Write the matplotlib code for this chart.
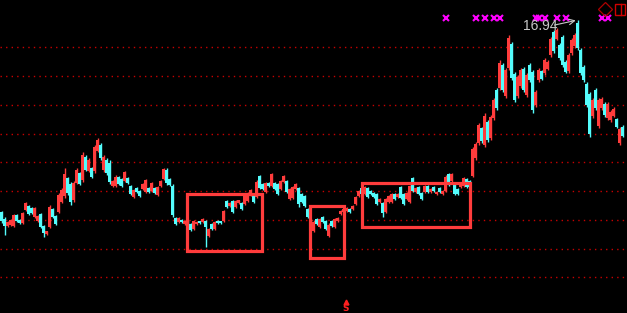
import numpy as np
import matplotlib
matplotlib.use("Agg")
import matplotlib.pyplot as plt
from matplotlib.patches import Rectangle


# Daily OHLC (price levels, gridlines sit on whole numbers)
opens = [
    10.27, 10.05, 9.79, 9.82, 9.80, 10.18, 10.00, 9.90, 10.35, 10.48,
    10.42, 10.10, 9.96, 10.21, 9.79, 9.50, 9.76, 10.38, 10.14, 10.28,
    10.63, 10.83, 11.46, 11.25, 10.70, 11.29, 11.64, 11.39, 12.20, 11.70,
    11.81, 11.70, 12.40, 12.61, 11.74, 12.09, 11.98, 11.18, 11.18, 11.50,
    11.43, 11.36, 11.46, 11.18, 10.80, 11.11, 11.01, 11.08, 10.97, 11.11,
    11.01, 11.11, 10.87, 11.18, 11.43, 11.74, 11.43, 11.18, 10.07, 9.93,
    10.00, 9.86, 9.97, 9.86, 9.69, 9.86, 9.95, 9.92, 9.95, 9.45,
    9.86, 9.69, 9.97, 9.95, 9.97, 10.66, 10.48, 10.66, 10.45, 10.58,
    10.60, 10.56, 10.66, 10.87, 10.90, 10.80, 11.53, 11.25, 10.97, 11.29,
    11.18, 11.29, 11.25, 11.08, 11.32, 11.36, 10.73, 10.77, 11.08, 11.11,
    10.90, 10.83, 10.38, 9.88, 9.62, 10.03, 9.76, 10.10, 9.97, 9.45,
    9.97, 9.76, 9.96, 10.21, 10.28, 10.31, 10.38, 10.38, 10.56, 10.83,
    11.11, 10.90, 11.11, 11.01, 10.94, 10.90, 10.63, 10.59, 10.28, 10.63,
    10.63, 10.90, 10.80, 11.15, 10.90, 10.73, 10.63, 11.46, 10.97, 11.15,
    10.94, 10.97, 11.18, 10.97, 11.15, 10.90, 11.11, 10.90, 11.01, 11.60,
    11.36, 11.25, 11.08, 11.15, 11.18, 11.43, 11.36, 11.53, 12.16, 12.68,
    13.20, 12.61, 13.41, 12.85, 13.55, 14.52, 14.59, 15.39, 14.31, 15.29,
    16.12, 15.08, 14.31, 14.66, 15.25, 14.35, 15.39, 15.15, 14.00, 14.87,
    15.18, 15.11, 15.25, 15.74, 16.54, 16.30, 16.09, 16.37, 15.50, 15.18,
    15.81, 16.05, 16.85, 15.91, 15.32, 14.73, 14.38, 13.62, 14.52, 13.27,
    13.90, 14.03, 13.55, 13.48, 13.62, 13.50, 12.68, 13.24,
]
highs = [
    10.31, 10.10, 9.97, 10.03, 10.21, 10.21, 10.03, 10.28, 10.63, 10.52,
    10.45, 10.45, 10.17, 10.24, 9.83, 9.62, 10.52, 10.42, 10.17, 10.94,
    11.11, 11.81, 11.50, 11.32, 11.36, 11.81, 11.67, 12.37, 12.26, 12.16,
    11.84, 12.61, 12.85, 12.68, 12.26, 12.16, 12.09, 11.39, 11.57, 11.53,
    11.46, 11.70, 11.50, 11.22, 11.08, 11.15, 11.04, 11.29, 11.43, 11.15,
    11.32, 11.15, 11.18, 11.39, 11.81, 11.81, 11.46, 11.25, 10.10, 10.10,
    10.03, 10.00, 10.00, 9.90, 10.00, 9.97, 9.97, 10.07, 10.00, 9.72,
    9.90, 9.97, 10.00, 9.97, 10.35, 10.70, 10.63, 10.70, 10.70, 10.70,
    10.63, 10.87, 10.97, 11.08, 10.94, 11.39, 11.57, 11.29, 11.32, 11.32,
    11.64, 11.32, 11.29, 11.39, 11.57, 11.39, 11.11, 11.18, 11.29, 11.15,
    10.94, 10.87, 10.42, 10.03, 10.00, 10.07, 10.07, 10.14, 10.00, 9.90,
    10.00, 10.07, 10.10, 10.35, 10.42, 10.45, 10.42, 10.52, 10.83, 11.04,
    11.15, 11.18, 11.15, 11.04, 10.97, 10.94, 10.77, 10.63, 10.77, 10.87,
    10.94, 10.94, 10.94, 11.18, 10.94, 10.97, 11.22, 11.50, 11.15, 11.18,
    10.97, 11.22, 11.22, 11.11, 11.18, 11.01, 11.15, 11.04, 11.57, 11.64,
    11.64, 11.29, 11.11, 11.29, 11.50, 11.46, 11.39, 12.54, 12.71, 13.37,
    13.24, 13.72, 13.48, 13.65, 14.24, 14.59, 15.56, 15.46, 15.29, 16.43,
    16.19, 15.15, 15.04, 15.29, 15.32, 15.11, 15.46, 15.22, 14.52, 15.29,
    15.22, 15.63, 15.56, 16.37, 16.61, 16.68, 16.16, 16.43, 15.56, 15.81,
    16.33, 16.50, 16.94, 15.98, 15.39, 14.80, 14.45, 14.24, 14.59, 14.24,
    14.28, 14.10, 14.10, 13.83, 13.93, 13.55, 13.24, 13.30,
]
lows = [
    9.90, 9.48, 9.76, 9.79, 9.76, 9.93, 9.86, 9.86, 10.31, 10.17,
    10.21, 10.07, 9.93, 9.72, 9.41, 9.48, 9.72, 10.07, 9.83, 10.24,
    10.59, 10.77, 10.87, 10.52, 10.63, 11.25, 11.22, 11.32, 11.70, 11.67,
    11.46, 11.64, 12.37, 12.09, 11.67, 11.57, 11.25, 11.15, 11.15, 11.22,
    11.15, 11.32, 11.25, 10.87, 10.77, 10.94, 10.80, 11.04, 10.94, 10.94,
    10.97, 10.90, 10.83, 11.15, 11.39, 11.22, 11.18, 10.10, 9.83, 9.90,
    9.90, 9.83, 9.83, 9.62, 9.65, 9.83, 9.86, 9.90, 9.06, 9.41,
    9.65, 9.65, 9.86, 9.86, 9.93, 10.42, 10.45, 10.24, 10.42, 10.56,
    10.35, 10.52, 10.63, 10.83, 10.59, 10.77, 11.08, 11.04, 10.94, 11.15,
    11.15, 11.04, 10.87, 11.04, 11.29, 10.94, 10.70, 10.73, 11.04, 10.45,
    10.59, 10.45, 10.07, 9.86, 9.58, 9.83, 9.72, 9.90, 9.65, 9.41,
    9.76, 9.72, 9.93, 10.17, 10.24, 10.28, 10.24, 10.35, 10.52, 10.80,
    10.87, 10.87, 10.77, 10.87, 10.77, 10.52, 10.59, 10.10, 10.24, 10.59,
    10.59, 10.70, 10.77, 10.73, 10.52, 10.70, 10.59, 10.97, 10.94, 10.87,
    10.70, 10.94, 10.94, 10.94, 10.97, 10.87, 10.94, 10.87, 10.97, 11.18,
    11.32, 10.87, 10.87, 11.11, 11.15, 11.11, 11.11, 11.50, 12.09, 12.61,
    12.68, 12.54, 12.71, 12.78, 13.48, 13.83, 14.52, 14.45, 14.24, 15.22,
    14.87, 14.10, 14.24, 14.59, 14.45, 14.28, 14.80, 13.72, 13.93, 14.80,
    14.87, 15.04, 15.22, 15.67, 15.81, 16.26, 15.56, 15.32, 15.11, 15.11,
    15.74, 15.98, 15.91, 15.04, 14.80, 13.93, 12.89, 13.55, 13.83, 13.20,
    13.83, 13.58, 13.48, 13.41, 13.58, 13.20, 12.61, 12.89,
]
closes = [
    9.95, 9.80, 9.94, 10.00, 10.17, 9.96, 9.89, 10.24, 10.59, 10.21,
    10.24, 10.42, 10.14, 9.76, 9.55, 9.60, 10.45, 10.10, 9.86, 10.87,
    11.04, 11.60, 10.94, 10.63, 11.29, 11.74, 11.25, 12.26, 11.74, 12.09,
    11.50, 12.54, 12.78, 12.16, 12.20, 11.64, 11.32, 11.36, 11.50, 11.25,
    11.18, 11.67, 11.29, 10.90, 11.04, 10.97, 10.83, 11.25, 11.39, 10.97,
    11.29, 10.94, 11.15, 11.36, 11.77, 11.29, 11.22, 10.17, 9.86, 10.07,
    9.93, 9.97, 9.86, 9.65, 9.97, 9.93, 9.88, 10.04, 9.76, 9.69,
    9.69, 9.93, 9.88, 9.88, 10.31, 10.45, 10.60, 10.28, 10.66, 10.68,
    10.38, 10.83, 10.94, 11.04, 10.63, 11.32, 11.11, 11.08, 11.29, 11.18,
    11.60, 11.08, 10.90, 11.36, 11.53, 10.97, 11.08, 11.15, 11.25, 10.56,
    10.63, 10.49, 10.10, 10.00, 9.93, 9.86, 10.03, 9.93, 9.69, 9.83,
    9.79, 10.03, 10.07, 10.31, 10.38, 10.42, 10.28, 10.49, 10.80, 11.01,
    10.90, 11.15, 10.80, 10.90, 10.80, 10.56, 10.73, 10.24, 10.73, 10.83,
    10.90, 10.73, 10.90, 10.77, 10.56, 10.94, 11.18, 11.01, 11.11, 10.90,
    10.73, 11.18, 10.97, 11.08, 11.01, 10.97, 10.97, 11.01, 11.50, 11.22,
    11.60, 10.90, 10.90, 11.25, 11.46, 11.15, 11.15, 12.47, 12.64, 13.30,
    12.75, 13.62, 12.78, 13.58, 14.17, 13.90, 15.46, 14.52, 15.22, 16.33,
    14.94, 14.17, 14.97, 15.22, 14.52, 15.04, 14.87, 13.83, 14.45, 15.22,
    14.90, 15.56, 15.50, 16.30, 15.88, 16.61, 15.63, 15.39, 15.15, 15.74,
    16.26, 16.43, 15.98, 15.11, 14.87, 14.00, 13.00, 14.17, 13.90, 14.17,
    14.21, 13.65, 14.03, 13.76, 13.86, 13.24, 13.17, 12.93,
]

grid_levels = [8, 9, 10, 11, 12, 13, 14, 15, 16]

# signal markers along the top (candle index)
signal_idx = [148, 158, 161, 164, 166, 178, 179, 181, 185, 188, 200, 202]
signal_y = 17.03

# highlight boxes: (x0, x1, y_bottom, y_top)
boxes = [
    (61.67, 86.93, 8.93, 10.89),
    (102.67, 114.23, 8.67, 10.50),
    (120.33, 156.33, 9.74, 11.27),
]

peak_idx = 192
peak_val = 16.94

RED = "#ff3c3c"
CYAN = "#54fcfc"

n = min(len(opens), len(highs), len(lows), len(closes))
o = np.array(opens[:n])
h = np.array(highs[:n])
l = np.array(lows[:n])
c = np.array(closes[:n])
x = np.arange(n)
up = c >= o
cols = np.where(up, RED, CYAN)

fig = plt.figure(figsize=(6.27, 3.13), dpi=100, facecolor="black")
ax = fig.add_axes([0, 0, 1, 1])
ax.set_facecolor("black")
ax.set_xlim(-0.5, 208.5)
ax.set_ylim(6.765, 17.652)
ax.axis("off")

for g in grid_levels:
    ax.axhline(g, color="#c80000", lw=1.0, ls=(0, (1, 3)), zorder=1)

ax.vlines(x, l, h, colors=cols, lw=1.0, zorder=2)
body = np.maximum(np.abs(c - o), 0.03)
ax.bar(x, body, bottom=np.minimum(o, c), width=0.72, color=cols,
       linewidth=0, antialiased=False, zorder=3)

for x0, x1, y0, y1 in boxes:
    ax.add_patch(Rectangle((x0, y0), x1 - x0, y1 - y0, fill=False,
                           edgecolor=RED, lw=2.3, zorder=4))

ax.plot(signal_idx, [signal_y] * len(signal_idx), ls="none", marker="x",
        color="#ff00ff", ms=4.5, mew=1.5, zorder=5)

# peak label
ax.text(173.8, 16.76, "16.94", color="#c8c8c8", fontsize=10,
        family="Liberation Sans", ha="left", va="center", zorder=6)
ax.annotate("", xy=(peak_idx - 0.6, peak_val), xytext=(184.3, 16.78),
            arrowprops=dict(arrowstyle="->", color="#c8c8c8", lw=0.8,
                            shrinkA=0, shrinkB=0), zorder=6)

# bottom marker
ax.plot([114.8], [7.14], ls="none", marker="^", color="#ff2020", ms=3.5,
        zorder=6)
ax.text(114.8, 6.93, "S", color="#ff2020", fontsize=6.5, fontweight="bold",
        ha="center", va="center", zorder=6)

# top-right corner icons
ax.plot([0.965], [0.971], transform=ax.transAxes, marker="D", ms=7,
        mfc="none", mec="#b00000", mew=0.9, ls="none", zorder=6)
ax.add_patch(Rectangle((0.981, 0.952), 0.016, 0.035, transform=ax.transAxes,
                       fill=False, edgecolor="#d00000", lw=1.0, zorder=6))
ax.plot([0.991, 0.991], [0.952, 0.987], transform=ax.transAxes,
        color="#d00000", lw=1.0, zorder=6)

fig.savefig("out.png", dpi=100, facecolor="black")
